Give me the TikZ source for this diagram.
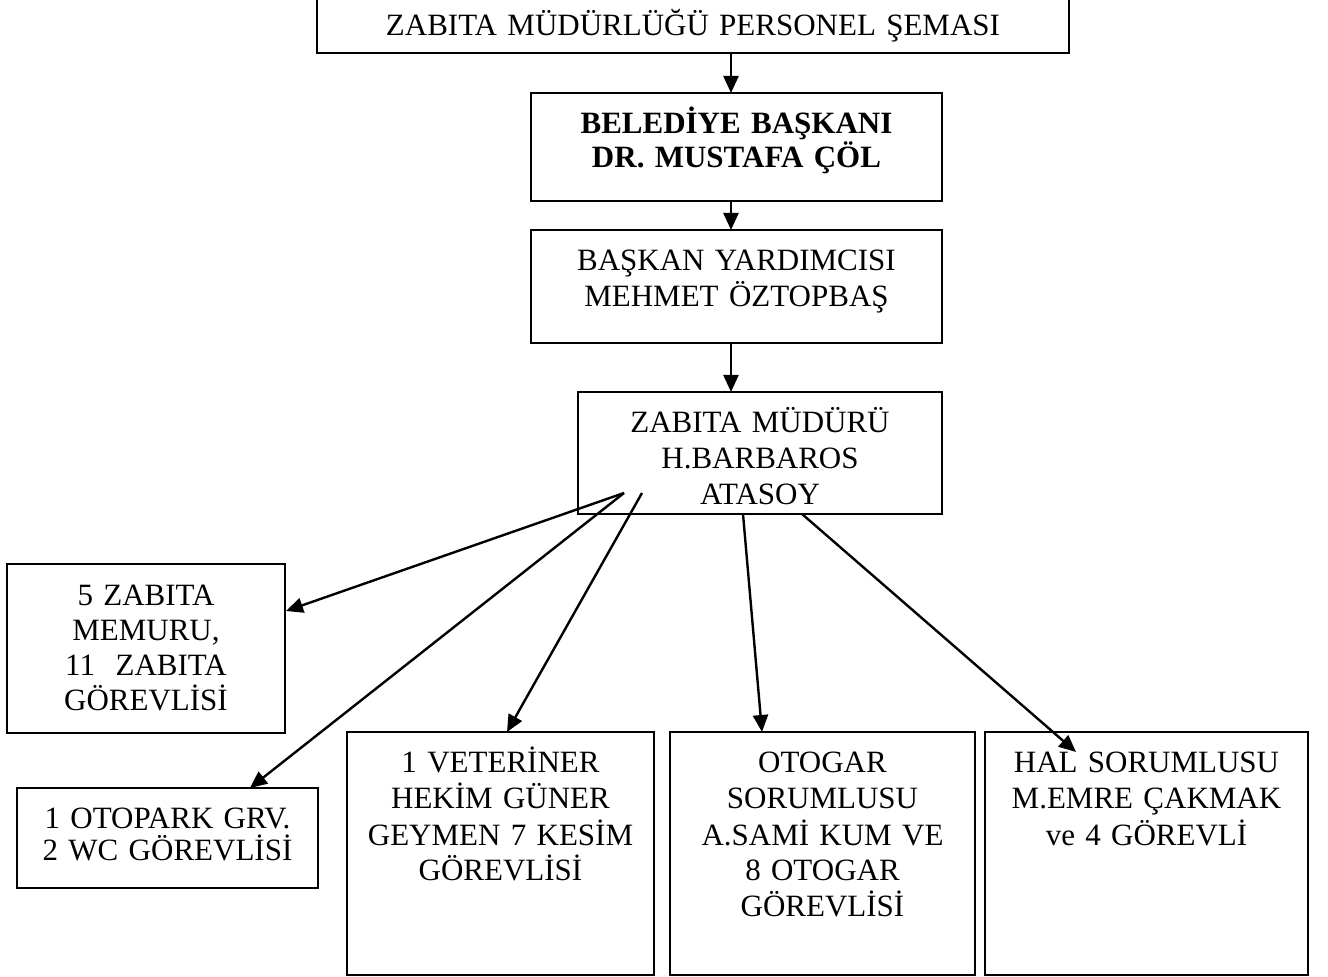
\documentclass[tikz,border=0pt]{standalone}
\usepackage{fontspec}
\setmainfont{Liberation Serif}
\usetikzlibrary{arrows.meta}
\begin{document}
\begin{tikzpicture}[x=0.5pt,y=-0.5pt,
  box/.style={draw=black, line width=0.9pt, inner sep=0pt, outer sep=0pt, rectangle},
  lbl/.style={anchor=base, inner sep=0pt, outer sep=0pt, align=center, font=\fontsize{15.5pt}{18pt}\selectfont},
  arr/.style={line width=1.2pt, -{Triangle[length=8.5pt,width=7.5pt]}}]
\clip (0,0) rectangle (1328,977);
\fill[white] (0,0) rectangle (1328,977);

% boxes
\node[box, minimum width=376pt, minimum height=29pt] (t) at (693,24) {};
\node[box, minimum width=205.5pt, minimum height=54pt] (b2) at (736.5,147) {};
\node[box, minimum width=205.5pt, minimum height=56.5pt] (b3) at (736.5,286.5) {};
\node[box, minimum width=182pt, minimum height=61pt] (b4) at (760,453) {};
\node[box, minimum width=139pt, minimum height=84.5pt] (b5) at (146,648.5) {};
\node[box, minimum width=150.5pt, minimum height=50pt] (b6) at (167.5,838) {};
\node[box, minimum width=153.5pt, minimum height=121.5pt] (b7) at (500.5,853.5) {};
\node[box, minimum width=152.5pt, minimum height=121.5pt] (b8) at (822.5,853.5) {};
\node[box, minimum width=161.5pt, minimum height=121.5pt] (b9) at (1146.5,853.5) {};

% texts
\node[lbl, text width=372pt] (tt) at ([yshift=-20.5pt]t.north) {ZABITA MÜDÜRLÜĞÜ PERSONEL ŞEMASI};
\node[lbl, text width=200pt, font=\fontsize{15.5pt}{17pt}\selectfont\bfseries] (b2t) at ([yshift=-20.5pt]b2.north) {BELEDİYE BAŞKANI\\DR. MUSTAFA ÇÖL};
\node[lbl, text width=200pt] (b3t) at ([yshift=-20.5pt]b3.north) {BAŞKAN YARDIMCISI\\MEHMET ÖZTOPBAŞ};
\node[lbl, text width=178pt] (b4t) at ([yshift=-20.5pt]b4.north) {ZABITA MÜDÜRÜ\\H.BARBAROS\\ATASOY};
\node[lbl, text width=135pt, font=\fontsize{15.5pt}{17.5pt}\selectfont] (b5t) at ([yshift=-21pt]b5.north) {5 ZABITA\\MEMURU,\\11\ \ ZABITA\\GÖREVLİSİ};
\node[lbl, text width=147pt, font=\fontsize{15.5pt}{16.5pt}\selectfont] (b6t) at ([yshift=-20pt]b6.north) {1 OTOPARK GRV.\\2 WC GÖREVLİSİ};
\node[lbl, text width=150pt] (b7t) at ([yshift=-20.5pt]b7.north) {1 VETERİNER\\HEKİM GÜNER\\GEYMEN 7 KESİM\\GÖREVLİSİ};
\node[lbl, text width=149pt] (b8t) at ([yshift=-20.5pt]b8.north) {OTOGAR\\SORUMLUSU\\A.SAMİ KUM VE\\8 OTOGAR\\GÖREVLİSİ};
\node[lbl, text width=158pt] (b9t) at ([yshift=-20.5pt]b9.north) {HAL SORUMLUSU\\M.EMRE ÇAKMAK\\ve 4 GÖREVLİ};

% connectors
\coordinate (ax) at (731,0);
\draw[arr] (t.south -| ax) -- (b2.north -| ax);
\draw[arr] (b2.south -| ax) -- (b3.north -| ax);
\draw[arr] (b3.south -| ax) -- (b4.north -| ax);

\coordinate (s1) at ([shift={(46,-21)}]b4.south west);
\coordinate (s2) at ([shift={(64,-21)}]b4.south west);
\draw[arr] (s1) -- ([shift={(1,47)}]b5.north east);
\draw[arr] (s1) -- ([shift={(233,0)}]b6.north west);
\draw[arr] (s2) -- ([shift={(160,0)}]b7.north west);
\draw[arr] ([shift={(165,0)}]b4.south west) -- ([shift={(92,0)}]b8.north west);
\draw[arr] ([shift={(224,0)}]b4.south west) -- ([shift={(91,20)}]b9.north west);
\end{tikzpicture}
\end{document}
